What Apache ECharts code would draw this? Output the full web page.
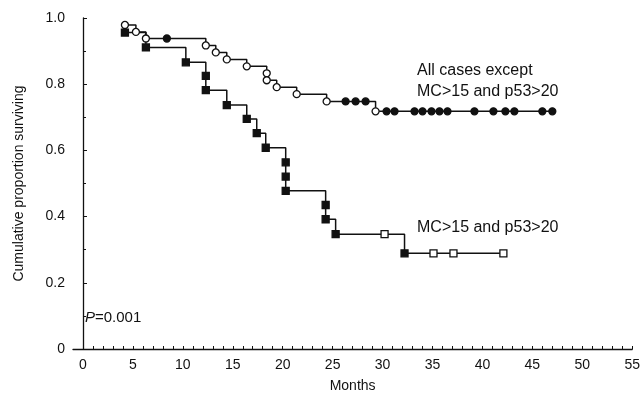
<!DOCTYPE html>
<html>
<head>
<meta charset="utf-8">
<script src="https://cdn.jsdelivr.net/npm/echarts@6/dist/echarts.min.js"></script>
<style>
  html, body { margin: 0; padding: 0; background: #fff; }
  #main { width: 643px; height: 402px; }
</style>
</head>
<body>
<div id="main"></div>
<script>
// All cases except MC>15 and p53>20
const g1Months = [4.2, 5.3, 6.3, 8.4, 12.3, 13.3, 14.4, 16.4, 18.4, 18.4, 19.4, 21.4, 24.4, 26.3, 27.3, 28.3,
  29.3, 30.4, 31.2, 33.2, 34.0, 34.9, 35.7, 36.5, 39.2, 41.1, 42.3, 43.2, 46.0, 47.0];
const g1Surv = [0.979, 0.958, 0.938, 0.938, 0.917, 0.896, 0.875, 0.854, 0.833, 0.812, 0.791, 0.770, 0.748, 0.748, 0.748, 0.748,
  0.718, 0.718, 0.718, 0.718, 0.718, 0.718, 0.718, 0.718, 0.718, 0.718, 0.718, 0.718, 0.718, 0.718];
const g1Censored = [0, 0, 0, 1, 0, 0, 0, 0, 0, 0, 0, 0, 0, 1, 1, 1,
  0, 1, 1, 1, 1, 1, 1, 1, 1, 1, 1, 1, 1, 1];

// MC>15 and p53>20
const g2Months = [4.2, 6.3, 10.3, 12.3, 12.3, 14.4, 16.4, 17.4, 18.3, 20.3, 20.3, 20.3, 24.3, 24.3, 25.3, 30.2, 32.2, 35.1, 37.1, 42.1];
const g2Surv = [0.956, 0.911, 0.866, 0.825, 0.782, 0.737, 0.695, 0.652, 0.608, 0.564, 0.521, 0.478, 0.435, 0.392, 0.347, 0.347, 0.289, 0.289, 0.289, 0.289];
const g2Censored = [0, 0, 0, 0, 0, 0, 0, 0, 0, 0, 0, 0, 0, 0, 0, 1, 0, 1, 1, 1];

const xLabels = [0, 5, 10, 15, 20, 25, 30, 35, 40, 45, 50, 55];
const xMinor = [];
for (let m = 0; m <= 55; m++) xMinor.push(m);

const FONT = '"Liberation Sans", Arial, sans-serif';
const INK = '#111';

function pairs(xs, ys, keep) {
  const out = [];
  xs.forEach((x, i) => { if (keep(i)) out.push([x, ys[i]]); });
  return out;
}

// step line + event markers + censored markers
function curve(xs, ys, flags, eventSymbol, censorSymbol, eventFill, censorFill) {
  return [
    {
      type: 'line', step: 'end', showSymbol: false, symbol: 'none',
      data: pairs(xs, ys, () => true),
      lineStyle: { color: INK, width: 1.5 }, z: 2
    },
    {
      type: 'scatter', symbol: eventSymbol, symbolSize: 7,
      data: pairs(xs, ys, i => !flags[i]),
      itemStyle: { color: eventFill, borderColor: INK, borderWidth: 1.3, opacity: 1 }, z: 3
    },
    {
      type: 'scatter', symbol: censorSymbol, symbolSize: 7,
      data: pairs(xs, ys, i => flags[i]),
      itemStyle: { color: censorFill, borderColor: INK, borderWidth: 1.3, opacity: 1 }, z: 3
    }
  ];
}

const chart = echarts.init(document.getElementById('main'), null, { renderer: 'canvas' });

const option = {
  backgroundColor: '#fff',
  animation: false,
  grid: { left: 73, right: 10, top: 18, bottom: 53 },
  xAxis: {
    type: 'value', min: -1, max: 55,
    name: 'Months', nameLocation: 'middle', nameGap: 30,
    nameTextStyle: { fontFamily: FONT, fontSize: 14, color: INK },
    axisLine: { show: true, lineStyle: { color: INK, width: 1.3 } },
    axisTick: { show: true, inside: true, length: 3, customValues: xMinor, lineStyle: { color: INK } },
    axisLabel: { customValues: xLabels, fontFamily: FONT, fontSize: 14, color: INK, margin: 9 },
    splitLine: { show: false }
  },
  yAxis: {
    type: 'value', min: 0, max: 1, interval: 0.2,
    name: 'Cumulative proportion surviving', nameLocation: 'middle', nameGap: 47, nameRotate: 90,
    nameTextStyle: { fontFamily: FONT, fontSize: 14, color: INK },
    axisLine: { show: true, lineStyle: { color: INK, width: 1.3 } },
    axisTick: { show: true, inside: true, length: 4, lineStyle: { color: INK } },
    minorTick: { show: true, splitNumber: 2, length: 3, lineStyle: { color: INK } },
    axisLabel: {
      fontFamily: FONT, fontSize: 14, color: INK, margin: 8,
      formatter: v => (v === 0 ? '0' : v.toFixed(1))
    },
    splitLine: { show: false }
  },
  graphic: [
    { type: 'text', left: 417, top: 60, style: { text: 'All cases except\nMC>15 and p53>20', font: '16px ' + FONT, fill: INK, lineHeight: 21 } },
    { type: 'text', left: 417, top: 220, style: { text: 'MC>15 and p53>20', font: '16px ' + FONT, fill: INK } },
    {
      type: 'text', left: 85, top: 310,
      style: {
        text: '{i|P}=0.001', font: '15px ' + FONT, fill: INK,
        rich: { i: { fontStyle: 'italic', fontFamily: FONT, fontSize: 15, fill: INK } }
      }
    }
  ],
  series: [
    ...curve(g1Months, g1Surv, g1Censored, 'circle', 'circle', '#fff', INK),
    ...curve(g2Months, g2Surv, g2Censored, 'rect', 'rect', INK, '#fff')
  ]
};

chart.setOption(option);
</script>
</body>
</html>
